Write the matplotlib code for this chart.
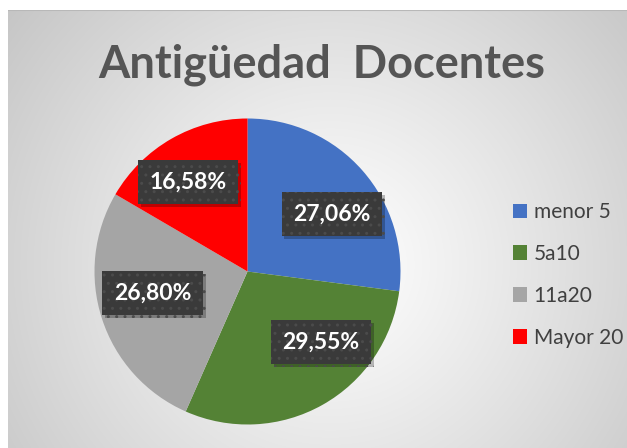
import numpy as np
import matplotlib.pyplot as plt
import matplotlib.patheffects as pe

categories = ['menor 5', '5a10', '11a20', 'Mayor 20']
values = [27.06, 29.55, 26.80, 16.58]
colors = ['#4472C4', '#548235', '#A5A5A5', '#FF0000']
pct_labels = ['27,06%', '29,55%', '26,80%', '16,58%']
# label centres in pie radius units
label_pos = [(0.55, 0.375), (0.48, -0.46), (-0.62, -0.14), (-0.39, 0.585)]

W, H = 627, 448
fig = plt.figure(figsize=(W / 100, H / 100), dpi=100)
fig.patch.set_facecolor('white')

# radial gradient background of the chart area
bg = fig.add_axes([8 / W, 0, 1 - 8 / W, (H - 10) / H])
yy, xx = np.mgrid[0:438, 0:619]
cx, cy = 322, 255
d = np.sqrt(((xx - cx) / 420.0) ** 2 + ((yy - cy) / 420.0) ** 2)
d = np.clip(d, 0, 1)
shade = 1.0 - 0.23 * d ** 1.1
img = np.dstack([shade, shade, shade])
bg.imshow(img, aspect='auto', extent=[0, 1, 0, 1], origin='upper')
bg.plot([0, 1], [1, 1], color='#B8B8B8', lw=1.5, transform=bg.transAxes)
bg.axis('off')

# pie
r = 153
cxp, cyp = 247.5, H - 271.5
ax = fig.add_axes([(cxp - r) / W, (cyp - r) / H, 2 * r / W, 2 * r / H])
wedges, _ = ax.pie(values, colors=colors, startangle=90, counterclock=False,
                   radius=1, wedgeprops=dict(linewidth=0))
ax.set_xlim(-1, 1)
ax.set_ylim(-1, 1)
ax.axis('off')

for (x, y), txt in zip(label_pos, pct_labels):
    t = ax.text(x, y, txt, ha='center', va='center', color='white',
                fontsize=16.5, fontweight='bold', family='Lato',
                bbox=dict(boxstyle='square,pad=0.5', facecolor='#3A3A3A',
                          edgecolor='#4B4B4B', linewidth=0, hatch='..'))
    t.get_bbox_patch().set_path_effects([
        pe.SimplePatchShadow(offset=(2, -2), shadow_rgbFace='black', alpha=0.25),
        pe.Normal()])

leg = fig.legend(wedges, categories, loc='center left',
                 bbox_to_anchor=(494 / W, 1 - 275 / H), frameon=False,
                 prop={'family': 'Lato', 'size': 15}, labelcolor='#404040',
                 handlelength=0.7, handleheight=0.7, handletextpad=0.3,
                 labelspacing=1.05)

fig.text(322 / W, 1 - 77 / H, 'Antigüedad  Docentes', ha='center', va='baseline',
         fontsize=32.5, fontweight='bold', family='Lato', color='#555555')

fig.savefig('out.png', dpi=100)
